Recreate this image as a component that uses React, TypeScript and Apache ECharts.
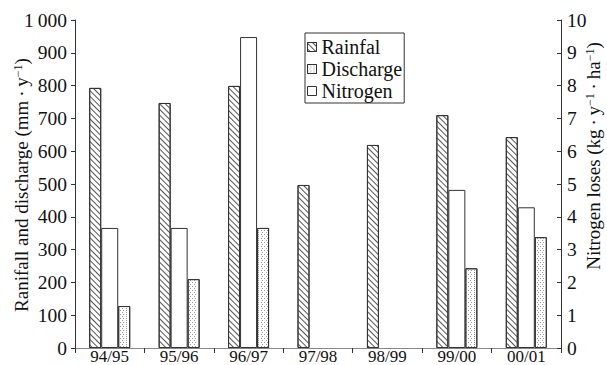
import React, { useEffect, useRef } from "react";
import * as echarts from "echarts";

const categories = ["94/95", "95/96", "96/97", "97/98", "98/99", "99/00", "00/01"];
const rainfall = [793, 747, 799, 497, 619, 710, 643];
const discharge = [128, 210, 366, null, null, 243, 338];
const nitrogen = [3.66, 3.66, 9.48, null, null, 4.82, 4.29];
const legendNames = ["Rainfal", "Discharge", "Nitrogen"];
const leftAxisName = "Ranifall and discharge (mm\u2009·\u2009y{sup|\u22121})";
const rightAxisName = "Nitrogen loses (kg\u2009·\u2009y{sup|\u22121}\u2009·\u2009ha{sup|\u22121})";

const FONT = "Liberation Serif";

export default function App() {
  const ref = useRef<HTMLDivElement>(null);
  useEffect(() => {
    document.body.style.margin = "0";
    const chart = echarts.init(ref.current!, null, { renderer: "svg" });
    const border = "#333";
    const option: any = {
      animation: false,
      backgroundColor: "#fff",
      textStyle: { fontFamily: FONT },
      grid: { left: 75, right: 46, top: 20, bottom: 17, outerBoundsMode: "none", containLabel: false },
      legend: {
        orient: "vertical",
        left: 305,
        top: 33,
        data: legendNames,
        icon: "rect",
        itemWidth: 9,
        itemHeight: 9,
        itemGap: 2,
        padding: [4, 2, 2, 2],
        borderColor: border,
        borderWidth: 1,
        itemStyle: { borderWidth: 1, borderColor: border },
        textStyle: { fontSize: 20, lineHeight: 20, color: "#111", fontFamily: FONT },
      },
      xAxis: [
        {
          type: "category",
          data: categories,
          axisLine: { lineStyle: { color: border } },
          axisTick: { show: true, length: 5, lineStyle: { color: border } },
          axisLabel: { fontSize: 17, lineHeight: 14, color: "#111", margin: 1, fontFamily: FONT },
        },
        {
          type: "category",
          position: "top",
          data: categories,
          axisLine: { show: true, lineStyle: { color: "#888" } },
          axisTick: { show: false },
          axisLabel: { show: false },
        },
      ],
      yAxis: [
        {
          type: "value",
          min: 0,
          max: 1000,
          interval: 100,
          axisLine: { show: true, lineStyle: { color: border } },
          axisTick: { show: true, length: 4, lineStyle: { color: border } },
          splitLine: { show: false },
          axisLabel: {
            fontSize: 19.5,
            color: "#111",
            margin: 8,
            fontFamily: FONT,
            formatter: (v: number) => (v === 1000 ? "1\u2009000" : String(v)),
          },
        },
        {
          type: "value",
          min: 0,
          max: 10,
          interval: 1,
          position: "right",
          axisLine: { show: true, lineStyle: { color: border } },
          axisTick: { show: true, inside: true, length: 4, lineStyle: { color: border } },
          splitLine: { show: false },
          axisLabel: { fontSize: 19.5, color: "#111", margin: 6, fontFamily: FONT },
        },
      ],
      series: [
        {
          name: "Rainfal",
          type: "bar",
          data: rainfall,
          barWidth: 12,
          barGap: "0%",
          itemStyle: {
            color: "#fff",
            borderColor: border,
            borderWidth: 1,
            decal: {
              symbol: "rect",
              symbolSize: 1,
              color: "#555",
              dashArrayX: [1, 0],
              dashArrayY: [1, 2.5],
              rotation: Math.PI / 4,
            },
          },
        },
        {
          name: "Nitrogen",
          type: "bar",
          yAxisIndex: 1,
          data: nitrogen,
          barWidth: 17,
          barGap: "0%",
          itemStyle: { color: "#fff", borderColor: border, borderWidth: 1 },
        },
        {
          name: "Discharge",
          type: "bar",
          data: discharge,
          barWidth: 12,
          barGap: "0%",
          itemStyle: {
            color: "#fff",
            borderColor: border,
            borderWidth: 1,
            decal: {
              symbol: "rect",
              symbolSize: 1,
              color: "#999",
              dashArrayX: [[1, 2], [0, 1.5, 1, 0.5]],
              dashArrayY: [1, 1],
              rotation: 0,
            },
          },
        },
      ],
      graphic: [
        {
          type: "text",
          x: 21,
          y: 185,
          rotation: Math.PI / 2,
          style: {
            text: leftAxisName,
            fontFamily: FONT,
            fontSize: 19,
            fill: "#111",
            align: "center",
            verticalAlign: "middle",
            rich: { sup: { fontSize: 12, verticalAlign: "top", fontFamily: FONT, fill: "#111" } },
          },
        },
        {
          type: "text",
          x: 593,
          y: 156,
          rotation: Math.PI / 2,
          style: {
            text: rightAxisName,
            fontFamily: FONT,
            fontSize: 19,
            fill: "#111",
            align: "center",
            verticalAlign: "middle",
            rich: { sup: { fontSize: 12, verticalAlign: "top", fontFamily: FONT, fill: "#111" } },
          },
        },
      ],
    };
    chart.setOption(option);
    return () => chart.dispose();
  }, []);
  return <div ref={ref} style={{ width: 607, height: 365 }} />;
}
